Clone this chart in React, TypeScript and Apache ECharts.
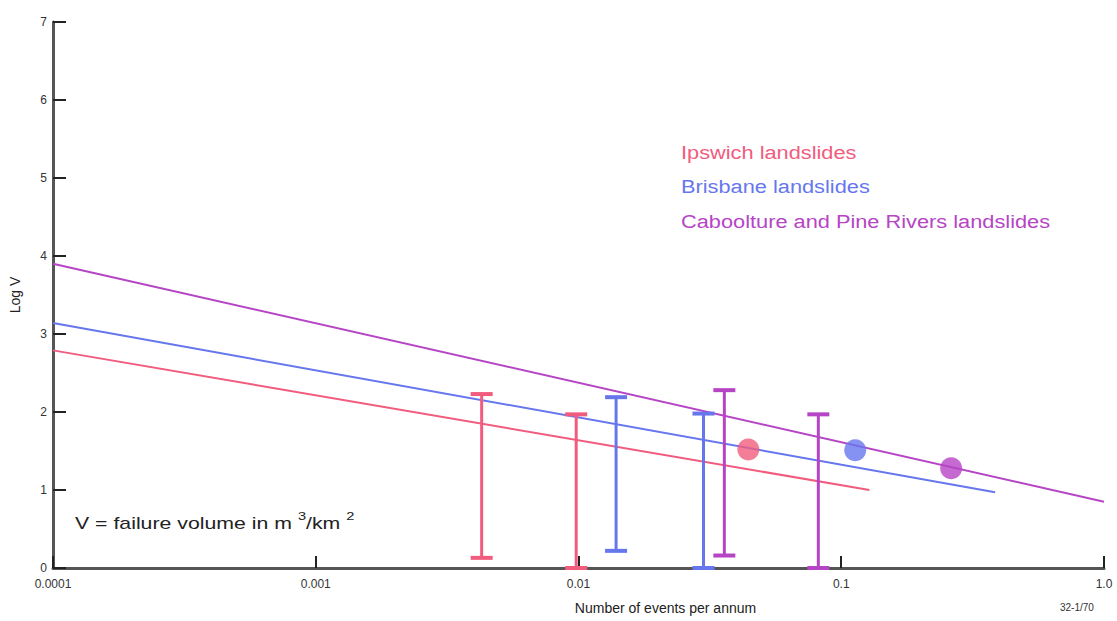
import React, { useEffect, useRef } from "react";
import * as echarts from "echarts";

// Regression lines: [events per annum, log V]
const ipswichLine = [[0.0001, 2.79], [0.128, 1.0]];
const brisbaneLine = [[0.0001, 3.14], [0.385, 0.97]];
const cabooltureLine = [[0.0001, 3.9], [1.0, 0.85]];

// Error bars: [events per annum, low log V, high log V]
const ipswichBars = [[0.00428, 0.13, 2.23], [0.0098, 0, 1.97]];
const brisbaneBars = [[0.0139, 0.22, 2.19], [0.0299, 0, 1.98]];
const cabooltureBars = [[0.0359, 0.16, 2.28], [0.0818, 0, 1.97]];

// Points
const ipswichPoint = [[0.0443, 1.52]];
const brisbanePoint = [[0.113, 1.51]];
const caboolturePoint = [[0.262, 1.28]];

const xTickLabels: Record<string, string> = {
  "-4": "0.0001",
  "-3": "0.001",
  "-2": "0.01",
  "-1": "0.1",
  "0": "1.0",
};

const seriesNames = [
  "Ipswich landslides",
  "Brisbane landslides",
  "Caboolture and Pine Rivers landslides",
];

const RED = "#F15C7E";
const BLUE = "#6677EE";
const MAGENTA = "#B545C5";
const FONT = "Liberation Sans, Arial, sans-serif";

function errorBarSeries(name: string, data: number[][], color: string) {
  return {
    type: "custom",
    name,
    data,
    z: 3,
    renderItem: (params: any, api: any) => {
      const x = api.value(0);
      const lo = api.coord([x, api.value(1)]);
      const hi = api.coord([x, api.value(2)]);
      const half = 11;
      const style = { stroke: color, lineWidth: 3 };
      return {
        type: "group",
        children: [
          { type: "line", shape: { x1: lo[0], y1: lo[1], x2: hi[0], y2: hi[1] }, style },
          { type: "line", shape: { x1: hi[0] - half, y1: hi[1], x2: hi[0] + half, y2: hi[1] }, style: { stroke: color, lineWidth: 4 } },
          { type: "line", shape: { x1: lo[0] - half, y1: lo[1], x2: lo[0] + half, y2: lo[1] }, style: { stroke: color, lineWidth: 4 } },
        ],
      };
    },
  };
}

function lineSeries(name: string, data: number[][], color: string) {
  return {
    type: "line",
    name,
    data,
    showSymbol: false,
    symbol: "none",
    lineStyle: { color, width: 2 },
    z: 2,
  };
}

function pointSeries(name: string, data: number[][], color: string) {
  return {
    type: "scatter",
    name,
    data,
    symbol: "circle",
    symbolSize: 22,
    itemStyle: { color },
    z: 4,
  };
}

function legendText(text: string, color: string, y: number) {
  return {
    type: "text",
    x: 681,
    y,
    scaleX: 1.21,
    style: { text, fill: color, font: `18px ${FONT}`, verticalAlign: "middle", align: "left" },
  };
}

export default function App() {
  const ref = useRef<HTMLDivElement>(null);
  useEffect(() => {
    if (!ref.current) return;
    const chart = echarts.init(ref.current, undefined, { renderer: "svg" });
    chart.setOption({
      animation: false,
      backgroundColor: "#ffffff",
      textStyle: { fontFamily: FONT },
      grid: { left: 53, right: 13, top: 22, bottom: 53 },
      xAxis: {
        type: "log",
        logBase: 10,
        min: 0.0001,
        max: 1,
        name: "Number of events per annum",
        nameLocation: "middle",
        nameGap: 33,
        nameTextStyle: { color: "#222", fontSize: 14, fontFamily: FONT, padding: [0, 0, 0, 174] },
        axisLine: { show: true, lineStyle: { color: "#555", width: 3 } },
        axisTick: { show: true, inside: true, length: 12, lineStyle: { color: "#222", width: 2 } },
        minorTick: { show: false },
        splitLine: { show: false },
        axisLabel: {
          color: "#333",
          fontSize: 12,
          fontFamily: FONT,
          margin: 10,
          formatter: (v: number) => xTickLabels[String(Math.round(Math.log10(v)))] ?? "",
        },
      },
      yAxis: {
        type: "value",
        min: 0,
        max: 7,
        interval: 1,
        name: "Log V",
        nameLocation: "middle",
        nameGap: 31,
        nameRotate: 90,
        nameTextStyle: { color: "#222", fontSize: 14, fontFamily: FONT },
        axisLine: { show: true, lineStyle: { color: "#555", width: 3 } },
        axisTick: { show: true, inside: true, length: 13, lineStyle: { color: "#222", width: 2 } },
        splitLine: { show: false },
        axisLabel: { color: "#333", fontSize: 12, fontFamily: FONT, margin: 6 },
      },
      series: [
        lineSeries(seriesNames[0], ipswichLine, RED),
        lineSeries(seriesNames[1], brisbaneLine, BLUE),
        lineSeries(seriesNames[2], cabooltureLine, MAGENTA),
        errorBarSeries(seriesNames[0], ipswichBars, RED),
        errorBarSeries(seriesNames[1], brisbaneBars, BLUE),
        errorBarSeries(seriesNames[2], cabooltureBars, MAGENTA),
        pointSeries(seriesNames[0], ipswichPoint, RED),
        pointSeries(seriesNames[1], brisbanePoint, BLUE),
        pointSeries(seriesNames[2], caboolturePoint, MAGENTA),
      ],
      graphic: [
        legendText(seriesNames[0], RED, 153),
        legendText(seriesNames[1], BLUE, 187),
        legendText(seriesNames[2], MAGENTA, 222),
        {
          type: "text",
          x: 75,
          y: 521,
          scaleX: 1.33,
          style: {
            text: "{n|V = failure volume in m }{s|3}{n|/km }{s|2}",
            verticalAlign: "middle",
            align: "left",
            rich: {
              n: { fontSize: 16, fontFamily: FONT, fill: "#222", verticalAlign: "bottom" },
              s: { fontSize: 11, fontFamily: FONT, fill: "#222", verticalAlign: "top", padding: [0, 0, 10, 0] },
            },
          },
        },
        { type: "text", left: 1060, top: 602, style: { text: "32-1/70", fill: "#333", font: `10px ${FONT}` } },
      ],
    });
    return () => chart.dispose();
  }, []);
  return <div ref={ref} style={{ position: "fixed", left: 0, top: 0, width: 1117, height: 621 }} />;
}
